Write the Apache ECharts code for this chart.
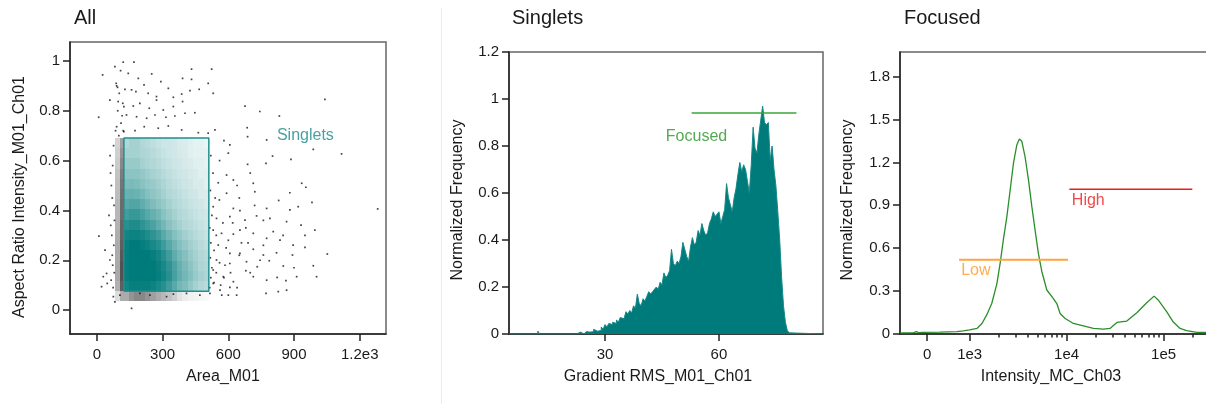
<!DOCTYPE html>
<html>
<head>
<meta charset="utf-8">
<title>Gating</title>
<script src="https://cdn.jsdelivr.net/npm/echarts@6/dist/echarts.min.js"></script>
<style>
html,body{margin:0;padding:0;background:#fff;}
#main{width:1206px;height:404px;}
</style>
</head>
<body>
<div id="main"></div>
<script>
// ---------- panel 1 : All (scatter) ----------
var allXTicks = [0, 300, 600, 900, 1200];
var allXLabels = ['0', '300', '600', '900', '1.2e3'];
var allYTicks = [0, 0.2, 0.4, 0.6, 0.8, 1];
// singlets gate (Area_M01, Aspect ratio)
var singletsGateX = [123, 511];
var singletsGateY = [0.076, 0.691];
// density of the teal cloud inside the gate, rows top -> bottom, 16 columns across the gate
var singletsDensity = [
  [0.3,0.35,0.35,0.3,0.28,0.25,0.22,0.2,0.2,0.18,0.15,0.14,0.12,0.1,0.1,0.08],
  [0.35,0.35,0.35,0.32,0.3,0.28,0.25,0.22,0.2,0.18,0.16,0.15,0.12,0.11,0.1,0.1],
  [0.4,0.4,0.4,0.35,0.32,0.3,0.28,0.24,0.22,0.2,0.18,0.16,0.15,0.12,0.12,0.1],
  [0.45,0.45,0.45,0.42,0.38,0.34,0.32,0.28,0.25,0.22,0.2,0.18,0.16,0.15,0.12,0.12],
  [0.5,0.52,0.5,0.46,0.42,0.4,0.36,0.32,0.28,0.25,0.22,0.2,0.18,0.15,0.15,0.12],
  [0.58,0.6,0.58,0.54,0.48,0.44,0.4,0.35,0.3,0.28,0.25,0.22,0.2,0.18,0.15,0.15],
  [0.65,0.68,0.68,0.62,0.56,0.5,0.45,0.4,0.35,0.3,0.28,0.25,0.22,0.2,0.18,0.15],
  [0.74,0.78,0.78,0.72,0.66,0.6,0.55,0.46,0.4,0.35,0.3,0.28,0.25,0.22,0.2,0.18],
  [0.84,0.88,0.88,0.82,0.76,0.7,0.62,0.55,0.46,0.4,0.35,0.3,0.28,0.25,0.22,0.2],
  [0.92,0.95,0.95,0.92,0.88,0.82,0.75,0.65,0.56,0.48,0.42,0.36,0.32,0.28,0.25,0.22],
  [0.97,1,1,0.98,0.95,0.9,0.85,0.76,0.66,0.56,0.48,0.42,0.36,0.32,0.28,0.25],
  [0.98,1,1,1,1,0.97,0.92,0.85,0.75,0.63,0.55,0.48,0.4,0.35,0.3,0.28],
  [0.98,1,1,1,1,1,0.96,0.9,0.82,0.7,0.6,0.52,0.45,0.38,0.32,0.3],
  [0.98,1,1,1,1,1,0.97,0.92,0.85,0.72,0.62,0.55,0.48,0.4,0.35,0.32],
  [0.92,0.97,0.97,0.97,0.97,0.95,0.9,0.85,0.75,0.65,0.55,0.5,0.42,0.35,0.3,0.28]
];
// black band left of the gate: columns starting at x 84, 104; same rows + one row under the gate
var leftBandX = [84, 104];
var leftBandW = [20, 19];
var leftBandDensity = [
  [0.18,0.4],[0.2,0.45],[0.22,0.5],[0.25,0.55],[0.27,0.58],[0.28,0.6],
  [0.3,0.62],[0.3,0.62],[0.32,0.65],[0.34,0.65],[0.35,0.68],[0.35,0.7],
  [0.36,0.72],[0.36,0.72],[0.33,0.68],[0.14,0.35]
];
// black events just below the gate, 16 columns
var belowGateDensity = [0.35,0.45,0.5,0.5,0.45,0.4,0.35,0.3,0.25,0.2,0.12,0.08,0.06,0.05,0.04,0.03];
// sparse events outside the gate
var allOutliers = [
  [120,0.995],[169,0.995],[82,0.977],[26,0.944],[108,0.961],[143,0.95],[189,0.93],[250,0.948],[292,0.917],
  [391,0.93],[432,0.926],[432,0.967],[524,0.967],[508,0.91],[90,0.9],[94,0.894],[128,0.886],[158,0.884],
  [178,0.877],[215,0.904],[234,0.87],[272,0.857],[326,0.89],[349,0.854],[387,0.867],[425,0.881],[467,0.886],
  [531,0.87],[59,0.843],[97,0.837],[123,0.817],[166,0.819],[196,0.83],[239,0.81],[272,0.843],[303,0.803],
  [349,0.817],[391,0.837],[135,0.783],[181,0.776],[227,0.77],[265,0.783],[315,0.774],[356,0.779],[402,0.79],
  [447,0.792],[8,0.774],[90,0.736],[123,0.716],[174,0.72],[216,0.736],[280,0.73],[326,0.739],[387,0.723],
  [463,0.712],[508,0.71],[539,0.723],[676,0.819],[744,0.797],[833,0.779],[1041,0.846],[686,0.732],[607,0.663],
  [775,0.683],[1117,0.627],[988,0.645],[688,0.696],[886,0.605],[802,0.618],[772,0.589],[688,0.585],[592,0.542],
  [623,0.522],[554,0.511],[714,0.509],[721,0.475],[881,0.471],[935,0.509],[954,0.493],[592,0.469],[559,0.442],
  [531,0.415],[623,0.408],[653,0.399],[775,0.408],[790,0.368],[881,0.402],[919,0.415],[982,0.432],[1282,0.406],
  [546,0.368],[607,0.375],[676,0.361],[729,0.378],[866,0.355],[932,0.341],[995,0.321],[531,0.321],[569,0.308],
  [623,0.305],[653,0.321],[714,0.308],[775,0.288],[805,0.315],[836,0.281],[896,0.261],[950,0.252],[554,0.261],
  [607,0.228],[653,0.228],[714,0.244],[760,0.221],[546,0.201],[607,0.187],[683,0.194],[732,0.174],[787,0.198],
  [851,0.177],[893,0.221],[1052,0.225],[531,0.161],[577,0.134],[623,0.114],[680,0.158],[714,0.134],[775,0.12],
  [823,0.131],[863,0.118],[912,0.134],[988,0.178],[1003,0.134],[531,0.107],[562,0.08],[607,0.091],[638,0.06],
  [772,0.067],[828,0.074],[866,0.08],[9,0.297],[37,0.241],[59,0.201],[44,0.147],[21,0.094],[47,0.107],
  [75,0.054],[158,0.007],[29,0.134],[82,0.033],[105,0.06],[318,0.054],[349,0.064],[242,0.06],[196,0.067],
  [409,0.067],[470,0.06],[516,0.067],
  [520,0.62],[530,0.55],[518,0.48],[540,0.45],[525,0.38],[515,0.33],[545,0.3],[520,0.27],[535,0.24],[518,0.21],
  [560,0.19],[525,0.17],[545,0.15],[520,0.13],[535,0.11],[515,0.09],[565,0.1],[580,0.13],[590,0.25],[575,0.35],
  [600,0.28],[585,0.18],[610,0.15],[570,0.06],[600,0.06],[640,0.09],[660,0.27],[620,0.35],[640,0.5],[560,0.6],
  [600,0.63],[580,0.68],[650,0.22],[700,0.15],[690,0.27],[745,0.2],[760,0.26],[820,0.23],[680,0.33],[720,0.42],
  [760,0.36],[850,0.3],[900,0.17],[950,0.3],[830,0.44],[700,0.55],[650,0.45],
  [85,0.72],[110,0.75],[95,0.8],[118,0.83],[102,0.87],[88,0.91],[115,0.78],[100,0.7],[120,0.72],
  [62,0.55],[70,0.45],[55,0.38],[68,0.3],[60,0.62],[72,0.18],[65,0.12],
  [76,0.66],[66,0.5],[78,0.42],[63,0.34],[77,0.26],[70,0.22],[79,0.15],[74,0.09],[80,0.36],[72,0.58]
];

// ---------- panel 2 : Singlets (histogram) ----------
var gradientRange = [4.7, 87.4];
var gradientXTicks = [30, 60];
var gradientBinStart = 22;
var gradientBinWidth = 0.5;
var gradientFreq = [
  0,0,0.008,0,0,0.005,0.01,0.008,0.015,0.01,0.02,0.012,0.02,0.015,0.03,0.02,
  0.04,0.03,0.045,0.04,0.05,0.045,0.06,0.05,0.07,0.065,0.06,0.095,0.085,0.1,0.09,0.12,
  0.11,0.17,0.13,0.12,0.15,0.14,0.16,0.18,0.17,0.18,0.19,0.2,0.19,0.22,0.21,0.26,
  0.24,0.25,0.27,0.36,0.3,0.29,0.31,0.3,0.33,0.39,0.36,0.33,0.31,0.37,0.41,0.38,
  0.39,0.44,0.42,0.47,0.44,0.42,0.43,0.47,0.49,0.52,0.5,0.51,0.52,0.47,0.5,0.53,
  0.64,0.58,0.55,0.52,0.58,0.62,0.68,0.73,0.69,0.72,0.7,0.65,0.6,0.72,0.88,0.79,
  0.77,0.85,0.91,0.97,0.9,0.89,0.9,0.74,0.8,0.7,0.63,0.52,0.4,0.24,0.12,0.05,
  0.015,0.005,0
];
var gradientStray = [[12.3, 0], [12.3, 0.012], [12.8, 0]];
var focusedGate = { x: [52.8, 80.4], y: 0.94 };

// ---------- panel 3 : Focused (Intensity_MC_Ch03) ----------
var intensityMajor = [0, 1000, 10000, 100000];
var intensityLabels = ['0', '1e3', '1e4', '1e5'];
var intensityMinor = [2000,3000,4000,5000,6000,7000,8000,9000,20000,30000,40000,50000,60000,70000,80000,90000,200000];
var intensityRange = [-640, 382000];
var intensityValue = [-640,-320,-250,-200,-100,300,700,850,1000,1190,1340,1500,1690,1910,2060,2230,2420,2620,
  2830,3070,3260,3450,3730,4040,4380,4730,5120,5550,6250,7310,7930,8570,9660,11750,14900,18900,24000,28000,
  33000,41800,53000,67000,79800,88000,108000,126000,148000,173000,220000,382000];
var intensityFreq = [0.004,0.005,0.013,0.005,0.008,0.009,0.012,0.018,0.025,0.035,0.07,0.13,0.21,0.35,0.49,0.66,0.82,1.01,
  1.195,1.325,1.365,1.35,1.24,1.08,0.89,0.725,0.56,0.435,0.305,0.245,0.21,0.14,0.105,0.07,0.053,0.035,0.03,0.035,
  0.077,0.087,0.145,0.215,0.262,0.235,0.152,0.08,0.035,0.02,0.008,0.004];
var freqTicks = [0, 0.3, 0.6, 0.9, 1.2, 1.5, 1.8];
var lowGate = { x: [750, 10350], y: 0.518 };
var highGate = { x: [10670, 198000], y: 1.013 };

// logicle-like display: linear below 1e3, log10 above
var ZERO_POS = 2.562;
function toDisplay(v) {
  return v >= 1000 ? Math.log10(v) : ZERO_POS + (3 - ZERO_POS) * v / 1000;
}

var FONT = 'Liberation Sans, Arial, sans-serif';
var TXT = '#1a1a1a';
var TEAL = '#007b7b';

// ---------- build cells ----------
var cellW = (singletsGateX[1] - singletsGateX[0]) / 16;
var cellH = (singletsGateY[1] - singletsGateY[0]) / singletsDensity.length;
var tealCells = [];
var blackCells = [];
var nRows = singletsDensity.length;
for (var j = 0; j < nRows; j++) {
  var y0 = singletsGateY[0] + (nRows - 1 - j) * cellH;
  for (var i = 0; i < 16; i++) {
    tealCells.push([singletsGateX[0] + i * cellW, y0, cellW, cellH, singletsDensity[j][i]]);
  }
}
for (var k = 0; k < leftBandDensity.length; k++) {
  var yb = singletsGateY[0] + (nRows - 1 - k) * cellH;
  for (var c = 0; c < leftBandX.length; c++) {
    blackCells.push([leftBandX[c], yb, leftBandW[c], cellH, leftBandDensity[k][c]]);
  }
}
for (var m = 0; m < belowGateDensity.length; m++) {
  blackCells.push([singletsGateX[0] + m * cellW, singletsGateY[0] - cellH, cellW, cellH, belowGateDensity[m]]);
}

function cellRenderer(color) {
  return function (params, api) {
    var x0 = api.value(0), y0 = api.value(1), w = api.value(2), h = api.value(3);
    var p0 = api.coord([x0, y0 + h]);
    var p1 = api.coord([x0 + w, y0]);
    var l = Math.round(p0[0]), t = Math.round(p0[1]);
    return {
      type: 'rect',
      shape: { x: l, y: t, width: Math.round(p1[0]) - l, height: Math.round(p1[1]) - t },
      style: { fill: color, opacity: api.value(4) }
    };
  };
}

// ---------- histogram line data ----------
var histData = [[gradientRange[0], 0]];
gradientStray.forEach(function (p) { histData.push(p); });
histData.push([gradientBinStart - 0.5, 0]);
for (var b = 0; b < gradientFreq.length; b++) {
  histData.push([gradientBinStart + b * gradientBinWidth, gradientFreq[b]]);
}
histData.push([gradientRange[1], 0]);

var curveData = intensityValue.map(function (v, i) { return [toDisplay(v), intensityFreq[i]]; });

function axisBase(extra) {
  var o = {
    type: 'value',
    splitLine: { show: false },
    axisLine: { show: true, onZero: false, lineStyle: { color: '#222', width: 1.5 } },
    axisTick: { show: true, length: 7, lineStyle: { color: '#222', width: 1.5 } },
    axisLabel: { color: TXT, fontSize: 15, fontFamily: FONT },
    nameLocation: 'middle',
    nameTextStyle: { color: TXT, fontSize: 16, fontFamily: FONT }
  };
  for (var key in extra) {
    if (typeof extra[key] === 'object' && o[key] && !Array.isArray(extra[key])) {
      for (var k2 in extra[key]) o[key][k2] = extra[key][k2];
    } else {
      o[key] = extra[key];
    }
  }
  return o;
}

var gridStyle = { show: true, borderColor: '#666', borderWidth: 1.5, backgroundColor: 'transparent', outerBoundsMode: 'none', containLabel: false };

var option = {
  animation: false,
  backgroundColor: '#fff',
  title: [
    { text: 'All', left: 74, top: 8, padding: 0, textStyle: { fontSize: 20, fontWeight: 'normal', color: TXT, fontFamily: FONT } },
    { text: 'Singlets', left: 512, top: 8, padding: 0, textStyle: { fontSize: 20, fontWeight: 'normal', color: TXT, fontFamily: FONT } },
    { text: 'Focused', left: 904, top: 8, padding: 0, textStyle: { fontSize: 20, fontWeight: 'normal', color: TXT, fontFamily: FONT } }
  ],
  graphic: [
    { type: 'line', shape: { x1: 441.5, y1: 8, x2: 441.5, y2: 404 }, style: { stroke: '#ececec', lineWidth: 1 } }
  ],
  grid: [
    Object.assign({ left: 70, top: 42, width: 316, height: 292 }, gridStyle),
    Object.assign({ left: 509, top: 52, width: 314, height: 282 }, gridStyle),
    Object.assign({ left: 900, top: 52, width: 320, height: 282 }, gridStyle)
  ],
  xAxis: [
    axisBase({
      gridIndex: 0, min: -123, max: 1320, name: 'Area_M01', nameGap: 35,
      nameTextStyle: { padding: [0, 10, 0, 0] },
      axisTick: { customValues: allXTicks },
      axisLabel: { customValues: allXTicks, margin: 13, formatter: function (v) { return allXLabels[allXTicks.indexOf(v)]; } }
    }),
    axisBase({
      gridIndex: 1, min: gradientRange[0], max: gradientRange[1], name: 'Gradient RMS_M01_Ch01', nameGap: 35,
      nameTextStyle: { padding: [0, 16, 0, 0] },
      axisTick: { customValues: gradientXTicks },
      axisLabel: { customValues: gradientXTicks, margin: 13 }
    }),
    axisBase({
      gridIndex: 2, min: toDisplay(intensityRange[0]), max: toDisplay(intensityRange[1]), name: 'Intensity_MC_Ch03', nameGap: 35,
      nameTextStyle: { padding: [0, 18, 0, 0] },
      position: 'bottom',
      axisTick: { customValues: intensityMajor.map(toDisplay) },
      axisLabel: { customValues: intensityMajor.map(toDisplay), margin: 13, formatter: function (v) {
        for (var i = 0; i < intensityMajor.length; i++) if (Math.abs(toDisplay(intensityMajor[i]) - v) < 1e-6) return intensityLabels[i];
        return '';
      } }
    }),
    axisBase({
      gridIndex: 2, min: toDisplay(intensityRange[0]), max: toDisplay(intensityRange[1]),
      position: 'bottom',
      axisLine: { show: false },
      axisTick: { customValues: intensityMinor.map(toDisplay), length: 3.5 },
      axisLabel: { show: false }
    })
  ],
  yAxis: [
    axisBase({
      gridIndex: 0, min: -0.096, max: 1.076, name: 'Aspect Ratio Intensity_M01_Ch01', nameGap: 42,
      nameTextStyle: { padding: [0, 18, 0, 0] },
      axisTick: { customValues: allYTicks },
      axisLabel: { customValues: allYTicks, margin: 10 }
    }),
    axisBase({
      gridIndex: 1, min: 0, max: 1.2, interval: 0.2, name: 'Normalized Frequency', nameGap: 43,
      nameTextStyle: { padding: [0, 14, 0, 0] },
      axisLabel: { margin: 10 }
    }),
    axisBase({
      gridIndex: 2, min: -0.004, max: 1.976, name: 'Normalized Frequency', nameGap: 44,
      nameTextStyle: { padding: [0, 14, 0, 0] },
      axisTick: { customValues: freqTicks },
      axisLabel: { customValues: freqTicks, margin: 10 }
    })
  ],
  series: [
    {
      type: 'custom', xAxisIndex: 0, yAxisIndex: 0, clip: true,
      renderItem: cellRenderer('#111'), data: blackCells, encode: { x: 0, y: 1 }
    },
    {
      type: 'scatter', xAxisIndex: 0, yAxisIndex: 0, symbol: 'rect', symbolSize: 1.7,
      itemStyle: { color: '#151515' }, data: allOutliers, silent: true
    },
    {
      type: 'custom', xAxisIndex: 0, yAxisIndex: 0, clip: true,
      renderItem: cellRenderer(TEAL), data: tealCells, encode: { x: 0, y: 1 }
    },
    {
      type: 'line', xAxisIndex: 0, yAxisIndex: 0, symbol: 'none',
      lineStyle: { color: '#1f8f8f', width: 1.5 },
      data: [
        [singletsGateX[0], singletsGateY[0]], [singletsGateX[1], singletsGateY[0]],
        [singletsGateX[1], singletsGateY[1]], [singletsGateX[0], singletsGateY[1]],
        [singletsGateX[0], singletsGateY[0]]
      ]
    },
    {
      type: 'scatter', xAxisIndex: 0, yAxisIndex: 0, symbolSize: 0, data: [[822, 0.70]],
      label: { show: true, position: 'right', distance: 0, formatter: 'Singlets', color: '#1a8a8a', fontSize: 16, fontFamily: FONT }
    },
    {
      type: 'line', xAxisIndex: 1, yAxisIndex: 1, step: 'end', symbol: 'none',
      lineStyle: { color: '#168888', width: 1 },
      areaStyle: { color: TEAL, opacity: 1 },
      data: histData
    },
    {
      type: 'line', xAxisIndex: 1, yAxisIndex: 1, symbol: 'none',
      lineStyle: { color: '#3aa53a', width: 1.5 },
      data: [[focusedGate.x[0], focusedGate.y], [focusedGate.x[1], focusedGate.y]]
    },
    {
      type: 'scatter', xAxisIndex: 1, yAxisIndex: 1, symbolSize: 0, data: [[46.0, 0.84]],
      label: { show: true, position: 'right', distance: 0, formatter: 'Focused', color: '#259525', fontSize: 16, fontFamily: FONT }
    },
    {
      type: 'line', xAxisIndex: 2, yAxisIndex: 2, symbol: 'none',
      lineStyle: { color: '#2a8f2a', width: 1.3 },
      data: curveData
    },
    {
      type: 'line', xAxisIndex: 2, yAxisIndex: 2, symbol: 'none',
      lineStyle: { color: '#ffa53a', width: 2 },
      data: [[toDisplay(lowGate.x[0]), lowGate.y], [toDisplay(lowGate.x[1]), lowGate.y]]
    },
    {
      type: 'line', xAxisIndex: 2, yAxisIndex: 2, symbol: 'none',
      lineStyle: { color: '#ee1c1c', width: 1.5 },
      data: [[toDisplay(highGate.x[0]), highGate.y], [toDisplay(highGate.x[1]), highGate.y]]
    },
    {
      type: 'scatter', xAxisIndex: 2, yAxisIndex: 2, symbolSize: 0,
      data: [[toDisplay(800), 0.44]],
      label: { show: true, position: 'right', distance: 0, formatter: 'Low', color: '#ff9a24', fontSize: 16, fontFamily: FONT }
    },
    {
      type: 'scatter', xAxisIndex: 2, yAxisIndex: 2, symbolSize: 0,
      data: [[toDisplay(11320), 0.935]],
      label: { show: true, position: 'right', distance: 0, formatter: 'High', color: '#f01818', fontSize: 16, fontFamily: FONT }
    }
  ]
};

var chart = echarts.init(document.getElementById('main'));
chart.setOption(option);
</script>
</body>
</html>
